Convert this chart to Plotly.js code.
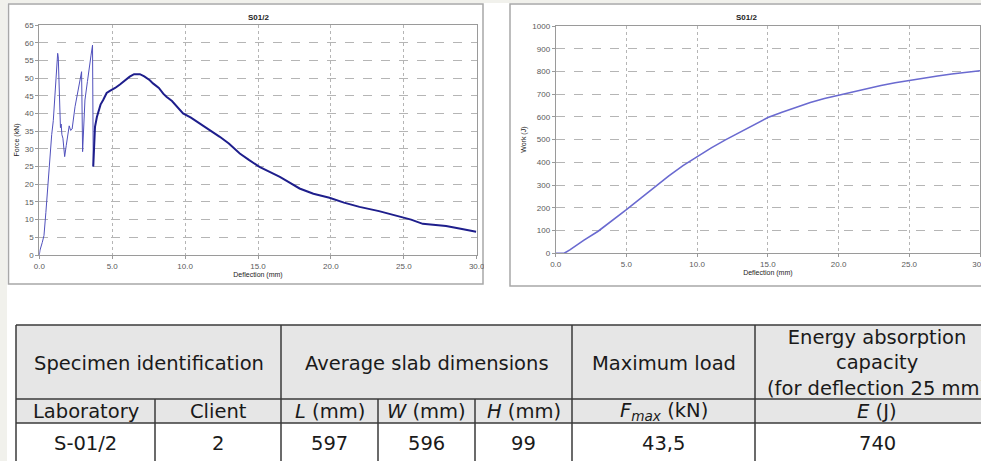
<!DOCTYPE html>
<html>
<head>
<meta charset="utf-8">
<script src="https://cdn.plot.ly/plotly-3.0.1.min.js"></script>
<style>
  html, body { margin: 0; padding: 0; background: #ffffff; }
  #chart { width: 981px; height: 461px; }
</style>
</head>
<body>
<div id="chart"></div>
<script>
// ---------- DATA ----------
const chartTitle = "S01/2";
const forceAxisTitle = "Force (kN)";
const workAxisTitle = "Work (J)";
const deflAxisTitle = "Deflection (mm)";

// Force–deflection, initial cracking part (thin line)
const deflEarly = [0.00, 0.05, 0.20, 0.32, 0.45, 0.60, 0.73, 0.85, 0.96, 1.08, 1.19, 1.26, 1.30, 1.35, 1.40, 1.45, 1.50, 1.55, 1.62, 1.74, 1.85, 1.95, 2.05, 2.15, 2.25, 2.45, 2.65, 2.90, 2.97, 3.05, 3.13, 3.30, 3.42, 3.55, 3.65, 3.68, 3.70];
const forceEarly = [0.0, 1.4, 3.5, 5.5, 12.0, 21.0, 28.8, 34.0, 38.0, 46.0, 54.0, 57.0, 56.0, 46.0, 43.0, 36.0, 37.0, 34.0, 33.0, 27.8, 31.0, 34.0, 36.5, 35.2, 35.6, 41.9, 46.5, 51.8, 29.2, 38.0, 43.8, 49.0, 53.2, 56.5, 59.3, 45.0, 25.0];

// Force–deflection, post-cracking part (thick line)
const deflMain = [3.70, 3.75, 3.82, 3.95, 4.04, 4.20, 4.38, 4.62, 4.84, 5.20, 5.53, 5.90, 6.20, 6.50, 6.90, 7.20, 7.58, 7.80, 8.20, 8.50, 8.72, 9.10, 9.50, 9.86, 10.40, 11.00, 11.70, 12.38, 13.00, 13.75, 14.40, 15.10, 15.80, 16.50, 17.20, 17.85, 18.80, 19.90, 20.90, 21.96, 23.30, 24.70, 25.50, 26.30, 27.10, 27.90, 28.90, 29.96];
const forceMain = [25.0, 33.0, 36.2, 39.0, 40.2, 42.5, 43.8, 45.8, 46.4, 47.2, 48.2, 49.5, 50.4, 51.1, 51.1, 50.5, 49.4, 48.5, 47.2, 45.6, 44.7, 43.5, 41.5, 40.0, 38.8, 37.2, 35.2, 33.4, 31.5, 28.7, 26.8, 24.9, 23.5, 22.1, 20.4, 18.8, 17.3, 16.2, 14.8, 13.6, 12.4, 11.0, 10.0, 8.8, 8.5, 8.2, 7.4, 6.6];

// Work–deflection
const deflWork = [0.0, 0.6, 1.0, 1.5, 2.0, 3.0, 4.0, 5.0, 6.0, 7.0, 8.0, 9.0, 10.0, 11.0, 12.0, 13.0, 14.0, 15.0, 16.0, 17.0, 18.0, 19.0, 20.0, 21.0, 22.0, 23.0, 24.0, 25.0, 26.0, 27.0, 28.0, 29.0, 30.0];
const work = [0, 0, 15, 38, 58, 97, 143, 192, 242, 293, 341, 386, 426, 464, 499, 532, 564, 597, 621, 643, 663, 681, 696, 711, 725, 738, 750, 761, 771, 780, 789, 796, 803];

// Table
const groupHeaders = ["Specimen identification", "Average slab dimensions", "Maximum load", "Energy absorption<br>capacity<br>(for deflection 25 mm)"];
const subHeaders = ["Laboratory", "Client", "<i>L</i> (mm)", "<i>W</i> (mm)", "<i>H</i> (mm)", "<i>F<sub>max</sub></i> (kN)", "<i>E</i> (J)"];
const rowValues = ["S-01/2", "2", "597", "596", "99", "43,5", "740"];

// ---------- LAYOUT GEOMETRY (pixels) ----------
const W = 981, H = 461;
const px = v => v / W;
const py = v => 1 - v / H;
const colEdges = [16, 155, 281, 378, 475, 572, 755, 1000];
const groupSpans = [[0, 2], [2, 5], [5, 6], [6, 7]];
const rowEdges = [325, 399, 423, 480];
const lastColCenter = 877;
const tableFont = "DejaVu Sans, Verdana, sans-serif";
const tableFontSize = 19.5;
const lineCol = "#3a3a3a";
const headFill = "#e6e6e6";

const tickFont = { family: "Liberation Sans, Arial, sans-serif", size: 8, color: "#5a5a5a" };
const axisTitleFont = { family: "Liberation Sans, Arial, sans-serif", size: 7, color: "#222" };

function axisX(domain, anchor) {
  return {
    domain: domain, anchor: anchor, range: [0, 30], dtick: 5, tickformat: ".1f",
    showgrid: true, gridcolor: "#b5b5b5", griddash: "dot", gridwidth: 1,
    showline: true, mirror: true, linecolor: "#9a9a9a", linewidth: 1,
    ticks: "outside", ticklen: 3, tickcolor: "#9a9a9a", ticklabeloverflow: "allow",
    zeroline: false, tickfont: tickFont,
    title: { text: deflAxisTitle, font: axisTitleFont, standoff: 1 }
  };
}
function axisY(domain, anchor, range, dtick, title) {
  return {
    domain: domain, anchor: anchor, range: range, dtick: dtick,
    showgrid: true, gridcolor: "#b5b5b5", griddash: "dash", gridwidth: 1,
    showline: true, mirror: true, linecolor: "#9a9a9a", linewidth: 1,
    ticks: "outside", ticklen: 3, tickcolor: "#9a9a9a",
    zeroline: false, tickfont: tickFont,
    title: { text: title, font: axisTitleFont, standoff: 4 }
  };
}

const traces = [
  { x: deflEarly, y: forceEarly, type: "scatter", mode: "lines", xaxis: "x", yaxis: "y",
    line: { color: "#5050bc", width: 1 }, hoverinfo: "skip" },
  { x: deflMain, y: forceMain, type: "scatter", mode: "lines", xaxis: "x", yaxis: "y",
    line: { color: "#1e1e8c", width: 2 }, hoverinfo: "skip" },
  { x: deflWork, y: work, type: "scatter", mode: "lines", xaxis: "x2", yaxis: "y2",
    line: { color: "#6a6ad0", width: 1.6 }, hoverinfo: "skip" }
];

const shapes = [];
const annotations = [];

// background strips and chart frames
shapes.push({ type: "rect", xref: "paper", yref: "paper", x0: 0, x1: px(7), y0: 0, y1: 1, fillcolor: "#f1f1ec", line: { width: 0 }, layer: "below" });
shapes.push({ type: "rect", xref: "paper", yref: "paper", x0: 0, x1: 1, y0: py(3), y1: 1, fillcolor: "#f1f1ec", line: { width: 0 }, layer: "below" });
shapes.push({ type: "rect", xref: "paper", yref: "paper", x0: px(8.5), x1: px(483), y0: py(284), y1: py(4), fillcolor: "#ffffff", line: { color: "#a8a8a8", width: 1.5 }, layer: "below" });
shapes.push({ type: "rect", xref: "paper", yref: "paper", x0: px(510), x1: px(1000), y0: py(286), y1: py(4), fillcolor: "#ffffff", line: { color: "#a8a8a8", width: 1.5 }, layer: "below" });
// clip of left chart's last tick label by its frame
shapes.push({ type: "rect", xref: "paper", yref: "paper", x0: px(484), x1: px(509), y0: py(300), y1: py(240), fillcolor: "#ffffff", line: { width: 0 }, layer: "above" });

// chart titles
[[258, 17], [746, 17]].forEach(p => annotations.push({
  text: "<b>" + chartTitle + "</b>", xref: "paper", yref: "paper", x: px(p[0]), y: py(p[1]),
  xanchor: "center", yanchor: "middle", showarrow: false,
  font: { family: "Liberation Sans, Arial, sans-serif", size: 8, color: "#222" }
}));

// ---------- TABLE ----------
const tL = colEdges[0], tR = colEdges[colEdges.length - 1];
shapes.push({ type: "rect", xref: "paper", yref: "paper", x0: px(tL), x1: px(tR), y0: py(rowEdges[2]), y1: py(rowEdges[0]), fillcolor: headFill, line: { width: 0 }, layer: "below" });
shapes.push({ type: "rect", xref: "paper", yref: "paper", x0: px(tL), x1: px(tR), y0: py(rowEdges[3]), y1: py(rowEdges[2]), fillcolor: "#ffffff", line: { width: 0 }, layer: "below" });
for (let r = 0; r < 3; r++) {
  shapes.push({ type: "line", xref: "paper", yref: "paper", x0: px(tL), x1: px(tR), y0: py(rowEdges[r]), y1: py(rowEdges[r]), line: { color: lineCol, width: 1.5 } });
}
const groupEdgeIdx = [0].concat(groupSpans.map(s => s[1]));
groupEdgeIdx.forEach(i => shapes.push({ type: "line", xref: "paper", yref: "paper", x0: px(colEdges[i]), x1: px(colEdges[i]), y0: py(rowEdges[1]), y1: py(rowEdges[0]), line: { color: lineCol, width: 1.5 } }));
colEdges.forEach(x => shapes.push({ type: "line", xref: "paper", yref: "paper", x0: px(x), x1: px(x), y0: py(rowEdges[3]), y1: py(rowEdges[1]), line: { color: lineCol, width: 1.5 } }));

const tf = { family: tableFont, size: tableFontSize, color: "#1a1a1a" };
groupHeaders.forEach((t, g) => {
  const cx = g === 3 ? lastColCenter : (colEdges[groupSpans[g][0]] + colEdges[groupSpans[g][1]]) / 2;
  annotations.push({ text: t, xref: "paper", yref: "paper", x: px(cx), y: py((rowEdges[0] + rowEdges[1]) / 2 + 1),
    xanchor: "center", yanchor: "middle", showarrow: false, font: tf, align: "center" });
});
subHeaders.forEach((t, c) => {
  const cx = c === 6 ? lastColCenter : (colEdges[c] + colEdges[c + 1]) / 2;
  annotations.push({ text: t, xref: "paper", yref: "paper", x: px(cx), y: py((rowEdges[1] + rowEdges[2]) / 2),
    xanchor: "center", yanchor: "middle", showarrow: false, font: tf });
});
rowValues.forEach((t, c) => {
  const cx = c === 6 ? lastColCenter : (colEdges[c] + colEdges[c + 1]) / 2;
  annotations.push({ text: t, xref: "paper", yref: "paper", x: px(cx), y: py(443),
    xanchor: "center", yanchor: "middle", showarrow: false, font: tf });
});

const layout = {
  width: W, height: H,
  margin: { l: 0, r: 0, t: 0, b: 0, pad: 0 },
  paper_bgcolor: "#ffffff", plot_bgcolor: "rgba(0,0,0,0)",
  showlegend: false,
  xaxis: axisX([px(39.3), px(476.7)], "y"),
  yaxis: axisY([py(255), py(25)], "x", [0, 65], 5, forceAxisTitle),
  xaxis2: axisX([px(555.7), px(980)], "y2"),
  yaxis2: axisY([py(253.3), py(26)], "x2", [0, 1000], 100, workAxisTitle),
  shapes: shapes,
  annotations: annotations
};

Plotly.newPlot("chart", traces, layout, { displayModeBar: false, staticPlot: true });
</script>
</body>
</html>
